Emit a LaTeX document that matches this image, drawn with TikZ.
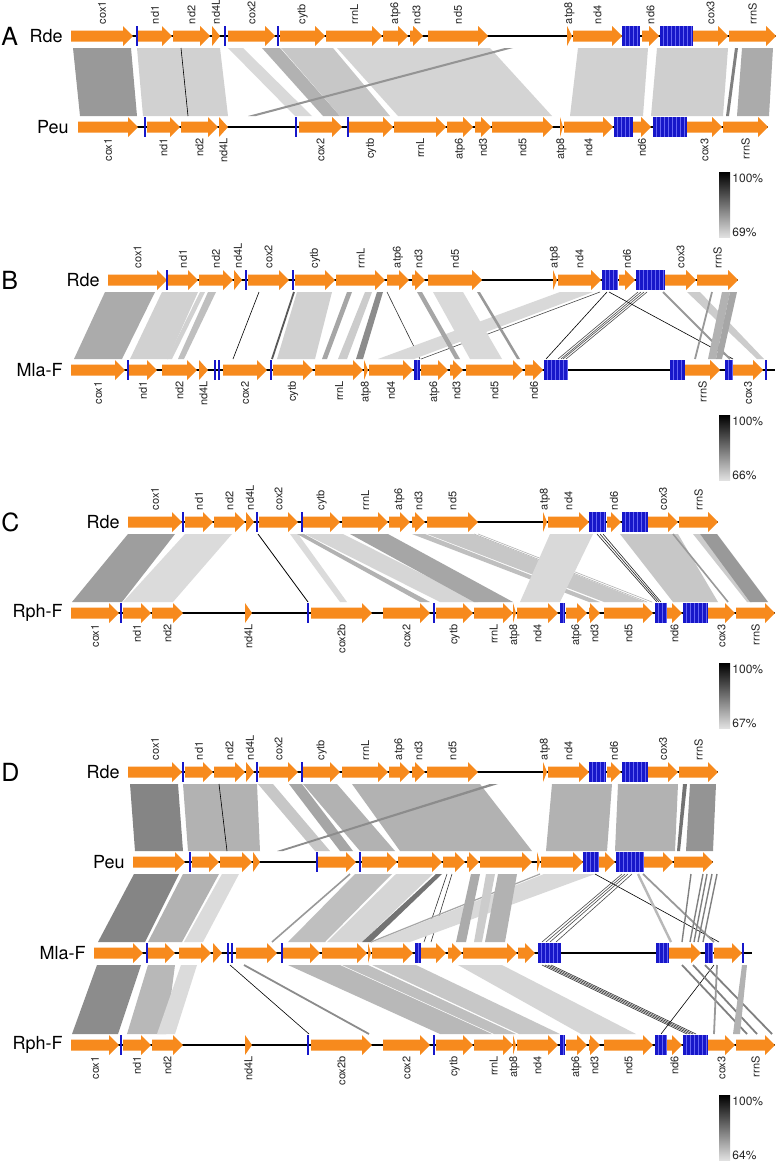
\documentclass[tikz,border=0pt]{standalone}
\usepackage{fontspec}
\setmainfont{TeX Gyre Heros}
\usetikzlibrary{calc}
\definecolor{gene-orange}{HTML}{F78A1D}
\definecolor{trna-blue}{HTML}{1717C9}
\definecolor{trna-light}{HTML}{6464F2}

% one gene arrow
\newcommand{\genearrow}[3]{%
  \pgfmathsetmacro\gh{max(#1,#2-10)}%
  \fill[gene-orange] (#1,#3-5.5) -- (\gh,#3-5.5) -- (\gh,#3-10) -- (#2,#3)
    -- (\gh,#3+10) -- (\gh,#3+5.5) -- (#1,#3+5.5) -- cycle;}
% genes with names above / below / none
\newcommand{\genesup}[3]{%
  \foreach \ga/\gb/\gn in {#3}{%
    \genearrow{\ga}{\gb}{#2}
    \node[glabel, anchor=west] (#1-\gn) at ({(\ga+\gb)/2},#2-11.5) {\gn};}}
\newcommand{\genesdown}[3]{%
  \foreach \ga/\gb/\gn in {#3}{%
    \genearrow{\ga}{\gb}{#2}
    \node[glabel, anchor=east] (#1-\gn) at ({(\ga+\gb)/2},#2+11) {\gn};}}
\newcommand{\genesplain}[2]{%
  \foreach \ga/\gb in {#2}{\genearrow{\ga}{\gb}{#1}}}
% tRNA bars and blocks
\newcommand{\trnas}[2]{\foreach \tx in {#2}{\draw[trna] (\tx,#1-10) -- (\tx,#1+10);}}
\newcommand{\tblock}[3]{%
  \fill[trna-blue] (#2,#1-10) rectangle (#3,#1+10);
  \pgfmathtruncatemacro\nst{(#3-#2)/4}%
  \ifnum\nst>0 \foreach \k in {1,...,\nst}{%
    \draw[trna-light, line width=0.3pt] ({#2+4*\k-1},#1-10) -- ++(0,20);}\fi}
% homology links between two tracks
\newcommand{\lnk}[5]{\fill[#1] (#2,\ytop) -- (#3,\ytop) -- (#5,\ybot) -- (#4,\ybot) -- cycle;}
\newcommand{\lln}[3]{\draw[#1] (#2,\ytop) -- (#3,\ybot);}
% legend bar
\newcommand{\scalebar}[3]{%
  \shade[top color=black, bottom color=black!12] (719,#1) rectangle (730,#1+65);
  \node[pct] (#3-hi) at (731,#1+6) {100\%};
  \node[pct] (#3-lo) at (731,#1+60) {#2\%};}

\begin{document}
\begin{tikzpicture}[x=0.5pt, y=-0.5pt,
    glabel/.style={font=\fontsize{5.5}{6.5}\selectfont, rotate=90, inner sep=0pt, text=black!85},
    species/.style={font=\fontsize{9}{10}\selectfont, anchor=east, inner sep=0pt},
    panel/.style={font=\fontsize{12.5}{13}\selectfont, anchor=west, inner sep=0pt},
    pct/.style={font=\fontsize{6}{7}\selectfont, anchor=west, inner sep=0.5pt, text=black!85},
    backbone/.style={line width=1.1pt, black},
    trna/.style={line width=0.9pt, trna-blue},
    hair/.style={line width=0.3pt},
]
\useasboundingbox (0,0) rectangle (777,1162);
\fill[white] (0,0) rectangle (777,1162);

%% ---------------- A: Rde vs Peu
\def\ytop{48}\def\ybot{116}
\lnk{black!40}{73}{131}{80}{137}
\lnk{black!18}{137}{220}{143}{228}
\lln{black, hair}{181}{188}
\lnk{black!15}{228}{243}{295}{312}
\lnk{black!30}{262}{280}{323}{340}
\lnk{black!22}{281}{333}{340}{390}
\lnk{black!17}{337}{490}{398}{552}
\lnk{black!42}{505}{513}{248}{256}
\lnk{black!18}{578}{648}{570}{643}
\lnk{black!19}{657}{728}{651}{723}
\lnk{black!50}{735}{738}{726}{729}
\lnk{black!33}{742}{773}{737}{769}

\node[panel] (labA) at (1,36) {A};
\node[species] (ARde) at (63,36) {Rde};
\draw[backbone] (71,36) -- (776,36);
\genesup{ARde}{36}{71/133/cox1, 138/172/nd1, 173/210/nd2, 212/220/nd4L, 228/275/cox2, 280/325/cytb, 326/382/rrnL, 383/408/atp6, 410/423/nd3, 428/488/nd5, 567/572/atp8, 573/622/nd4, 642/659/nd6, 693/728/cox3, 729/776/rrnS}
\trnas{36}{137, 225, 278}
\tblock{36}{622}{640}\tblock{36}{660}{693}

\node[species] (APeu) at (69,127) {Peu};
\draw[backbone] (78,127) -- (768,127);
\genesdown{APeu}{127}{78/138/cox1, 147/180/nd1, 181/218/nd2, 219/228/nd4L, 299/342/cox2, 349/393/cytb, 394/446/rrnL, 447/473/atp6, 475/491/nd3, 492/553/nd5, 560/563/atp8, 564/613/nd4, 633/651/nd6, 687/722/cox3, 723/768/rrnS}
\trnas{127}{145, 296, 348}
\tblock{127}{614}{633}\tblock{127}{653}{687}

\scalebar{172}{69}{legA}

%% ---------------- B: Rde vs Mla-F
\def\ytop{292}\def\ybot{359}
\lnk{black!33}{105}{155}{74}{122}
\lnk{black!18}{162}{198}{130}{168}
\lnk{black!18}{200}{205}{167}{172}
\lnk{black!25}{208}{216}{178}{184}
\lln{black, hair}{259}{233}
\lln{black!65, line width=0.9pt}{294}{272}
\lnk{black!18}{297}{332}{277}{315}
\lnk{black!35}{347}{352}{322}{327}
\lnk{black!20}{365}{372}{338}{347}
\lnk{black!45}{377}{383}{356}{363}
\lln{black!80, hair}{387}{420}
\lnk{black!15}{560}{593}{378}{414}
\lln{black!70, hair}{600}{421}
\lnk{black!35}{417}{422}{455}{460}
\lnk{black!15}{433}{463}{470}{502}
\lnk{black!40}{477}{480}{517}{520}
\lln{black, hair}{607}{546}
\foreach \p/\q in {638/558, 641/561, 644/563, 647/566}{\lln{black!70, hair}{\p}{\q}}
\lln{black, hair}{609}{733}
\lln{black!40, line width=0.9pt}{663}{730}
\lnk{black!20}{687}{700}{757}{764}
\lln{black!40, line width=0.9pt}{712}{695}
\lnk{black!30}{722}{730}{708}{716}
\lnk{black!35}{730}{737}{716}{722}

\node[panel] (labB) at (1,280) {B};
\node[species] (BRde) at (100,280) {Rde};
\draw[backbone] (108,280) -- (738,280);
\genesup{BRde}{280}{108/167/cox1, 168/198/nd1, 199/233/nd2, 234/242/nd4L, 248/289/cox2, 295/335/cytb, 336/385/rrnL, 387/409/atp6, 412/425/nd3, 428/482/nd5, 553/557/atp8, 558/601/nd4, 619/635/nd6, 665/696/cox3, 697/738/rrnS}
\trnas{280}{167, 246, 293}
\tblock{280}{602}{618}\tblock{280}{636}{665}

\node[species] (BMla) at (63,370) {Mla-F};
\draw[backbone] (71,370) -- (775,370);
\genesdown{BMla}{370}{71/125/cox1, 129/157/nd1, 162/197/nd2, 199/208/nd4L, 223/267/cox2, 273/313/cytb, 315/363/rrnL, 364/368/atp8, 369/413/nd4, 421/448/atp6, 450/463/nd3, 466/523/nd5, 525/543/nd6, 685/720/rrnS, 733/763/cox3}
\trnas{370}{128, 215, 219, 271, 766}
\tblock{370}{414}{420}\tblock{370}{544}{568}\tblock{370}{670}{685}\tblock{370}{725}{733}

\scalebar{415}{66}{legB}

%% ---------------- C: Rde vs Rph-F
\def\ytop{534}\def\ybot{602}
\lnk{black!38}{128}{175}{72}{122}
\lnk{black!14}{185}{232}{123}{173}
\lln{black, line width=0.4pt}{258}{308}
\lnk{black!14}{290}{298}{340}{347}
\lnk{black!30}{297}{304}{420}{430}
\lnk{black!16}{305}{343}{440}{478}
\lnk{black!35}{350}{388}{474}{513}
\lnk{black!25}{412}{425}{589}{600}
\lnk{black!22}{427}{473}{604}{645}
\lln{black!30, hair}{474}{647}
\lln{black!30, hair}{478}{652}
\lnk{black!15}{550}{593}{520}{560}
\foreach \p/\q in {597/657, 600/659, 603/661}{\lln{black!85, hair}{\p}{\q}}
\lnk{black!22}{620}{678}{673}{718}
\lln{black!40, line width=0.8pt}{673}{728}
\lnk{black!20}{693}{700}{747}{752}
\lnk{black!40}{700}{717}{750}{768}

\node[panel] (labC) at (1,522) {C};
\node[species] (CRde) at (120,522) {Rde};
\draw[backbone] (128,522) -- (718,522);
\genesup{CRde}{522}{128/182/cox1, 185/213/nd1, 214/245/nd2, 246/254/nd4L, 259/298/cox2, 303/340/cytb, 342/388/rrnL, 389/410/atp6, 412/425/nd3, 427/478/nd5, 543/547/atp8, 548/589/nd4, 607/621/nd6, 648/678/cox3, 679/718/rrnS}
\trnas{522}{183, 257, 302}
\tblock{522}{589}{606}\tblock{522}{622}{648}

\node[species] (CRph) at (63,613) {Rph-F};
\draw[backbone] (71,613) -- (775,613);
\genesdown{CRph}{613}{71/119/cox1, 123/151/nd1, 152/183/nd2, 245/252/nd4L, 311/372/cox2b, 383/430/cox2, 436/473/cytb, 474/513/rrnL, 513/516/atp8, 517/558/nd4, 566/587/atp6, 589/600/nd3, 604/653/nd5, 667/682/nd6, 708/735/cox3, 736/775/rrnS}
\trnas{613}{121, 308, 434}
\tblock{613}{560}{565}\tblock{613}{655}{667}\tblock{613}{683}{708}

\scalebar{663}{67}{legC}

%% ---------------- D: Rde, Peu, Mla-F, Rph-F
% Rde -- Peu
\def\ytop{784}\def\ybot{851}
\lnk{black!48}{130}{178}{135}{183}
\lnk{black!30}{183}{257}{188}{260}
\lln{black, hair}{219}{227}
\lnk{black!22}{258}{273}{315}{330}
\lnk{black!35}{289}{302}{340}{353}
\lnk{black!30}{303}{337}{360}{395}
\lnk{black!30}{352}{480}{400}{532}
\lnk{black!45}{490}{498}{277}{283}
\lnk{black!30}{552}{612}{546}{607}
\lnk{black!30}{618}{678}{615}{675}
\lnk{black!55}{683}{687}{677}{680}
\lnk{black!42}{690}{716}{686}{713}

% Peu -- Mla-F
\def\ytop{874}\def\ybot{942}
\lnk{black!48}{134}{179}{98}{145}
\lnk{black!30}{183}{219}{148}{182}
\lnk{black!14}{222}{239}{184}{203}
\lln{black!40, line width=0.8pt}{350}{272}
\lnk{black!25}{355}{392}{288}{325}
\lnk{black!16}{396}{433}{327}{362}
\lnk{black!55}{436}{442}{362}{371}
\lln{black!80, hair}{447}{424}
\lln{black!80, hair}{452}{431}
\lnk{black!15}{544}{595}{373}{410}
\lln{black!35, line width=0.6pt}{540}{371}
\lnk{black!33}{471}{480}{456}{466}
\lnk{black!20}{486}{495}{474}{482}
\lnk{black!30}{498}{517}{485}{505}
\lln{black, hair}{595}{719}
\foreach \p/\q in {622/542, 625/546, 628/550, 632/556}{\lln{black!70, hair}{\p}{\q}}
\lln{black!28, line width=1.2pt}{638}{671}
\lln{black!40, line width=0.9pt}{643}{714}
\foreach \p/\q in {691/682, 703/690, 707/694, 712/698, 717/703}{\lln{black!50, line width=0.7pt}{\p}{\q}}

% Mla-F -- Rph-F
\def\ytop{965}\def\ybot{1034}
\lnk{black!45}{97}{141}{72}{118}
\lnk{black!28}{148}{175}{127}{166}
\lnk{black!14}{181}{197}{157}{175}
\lln{black, hair}{230}{309}
\lln{black!45, line width=0.9pt}{244}{369}
\lnk{black!28}{288}{340}{440}{492}
\lnk{black!25}{342}{368}{494}{516}
\lnk{black!22}{372}{416}{519}{560}
\lnk{black!16}{458}{502}{581}{636}
\foreach \p/\q in {542/687, 545/690, 548/693, 551/696}{\lln{black!80, hair}{\p}{\q}}
\lln{black, hair}{714}{661}
\foreach \p/\q in {682/747, 693/757, 705/772}{\lln{black!50, line width=0.9pt}{\p}{\q}}
\lln{black!40, line width=0.9pt}{717}{714}
\lnk{black!30}{742}{747}{733}{740}

\node[panel] (labD) at (1,772) {D};
\node[species] (DRde) at (120,772) {Rde};
\draw[backbone] (128,772) -- (718,772);
\genesup{DRde}{772}{128/182/cox1, 185/213/nd1, 214/245/nd2, 246/254/nd4L, 259/298/cox2, 303/340/cytb, 342/388/rrnL, 389/410/atp6, 412/425/nd3, 427/478/nd5, 543/547/atp8, 548/589/nd4, 607/621/nd6, 648/678/cox3, 679/718/rrnS}
\trnas{772}{183, 257, 302}
\tblock{772}{589}{606}\tblock{772}{622}{648}

\node[species] (DPeu) at (125,862) {Peu};
\draw[backbone] (133,862) -- (713,862);
\genesplain{862}{133/185, 192/219, 220/252, 253/260, 318/356, 362/397, 398/442, 443/465, 467/479, 480/532, 537/540, 541/583, 599/615, 644/673, 674/713}
\trnas{862}{190, 317, 360}
\tblock{862}{583}{599}\tblock{862}{616}{644}

\node[species] (DMla) at (86,953) {Mla-F};
\draw[backbone] (94,953) -- (752,953);
\genesplain{953}{94/143, 148/175, 179/211, 213/222, 236/277, 283/320, 322/367, 368/371, 372/413, 421/446, 448/462, 463/517, 518/535, 668/701, 714/742}
\trnas{953}{147, 228, 232, 282, 743}
\tblock{953}{415}{421}\tblock{953}{538}{561}\tblock{953}{656}{669}\tblock{953}{705}{713}

\node[species] (DRph) at (63,1045) {Rph-F};
\draw[backbone] (71,1045) -- (775,1045);
\genesdown{DRph}{1045}{71/119/cox1, 123/151/nd1, 152/183/nd2, 245/252/nd4L, 311/372/cox2b, 383/430/cox2, 436/473/cytb, 474/513/rrnL, 513/516/atp8, 517/558/nd4, 566/587/atp6, 589/600/nd3, 604/653/nd5, 667/682/nd6, 708/735/cox3, 736/775/rrnS}
\trnas{1045}{121, 308, 434}
\tblock{1045}{560}{565}\tblock{1045}{655}{667}\tblock{1045}{683}{708}

\scalebar{1095}{64}{legD}
\end{tikzpicture}
\end{document}
